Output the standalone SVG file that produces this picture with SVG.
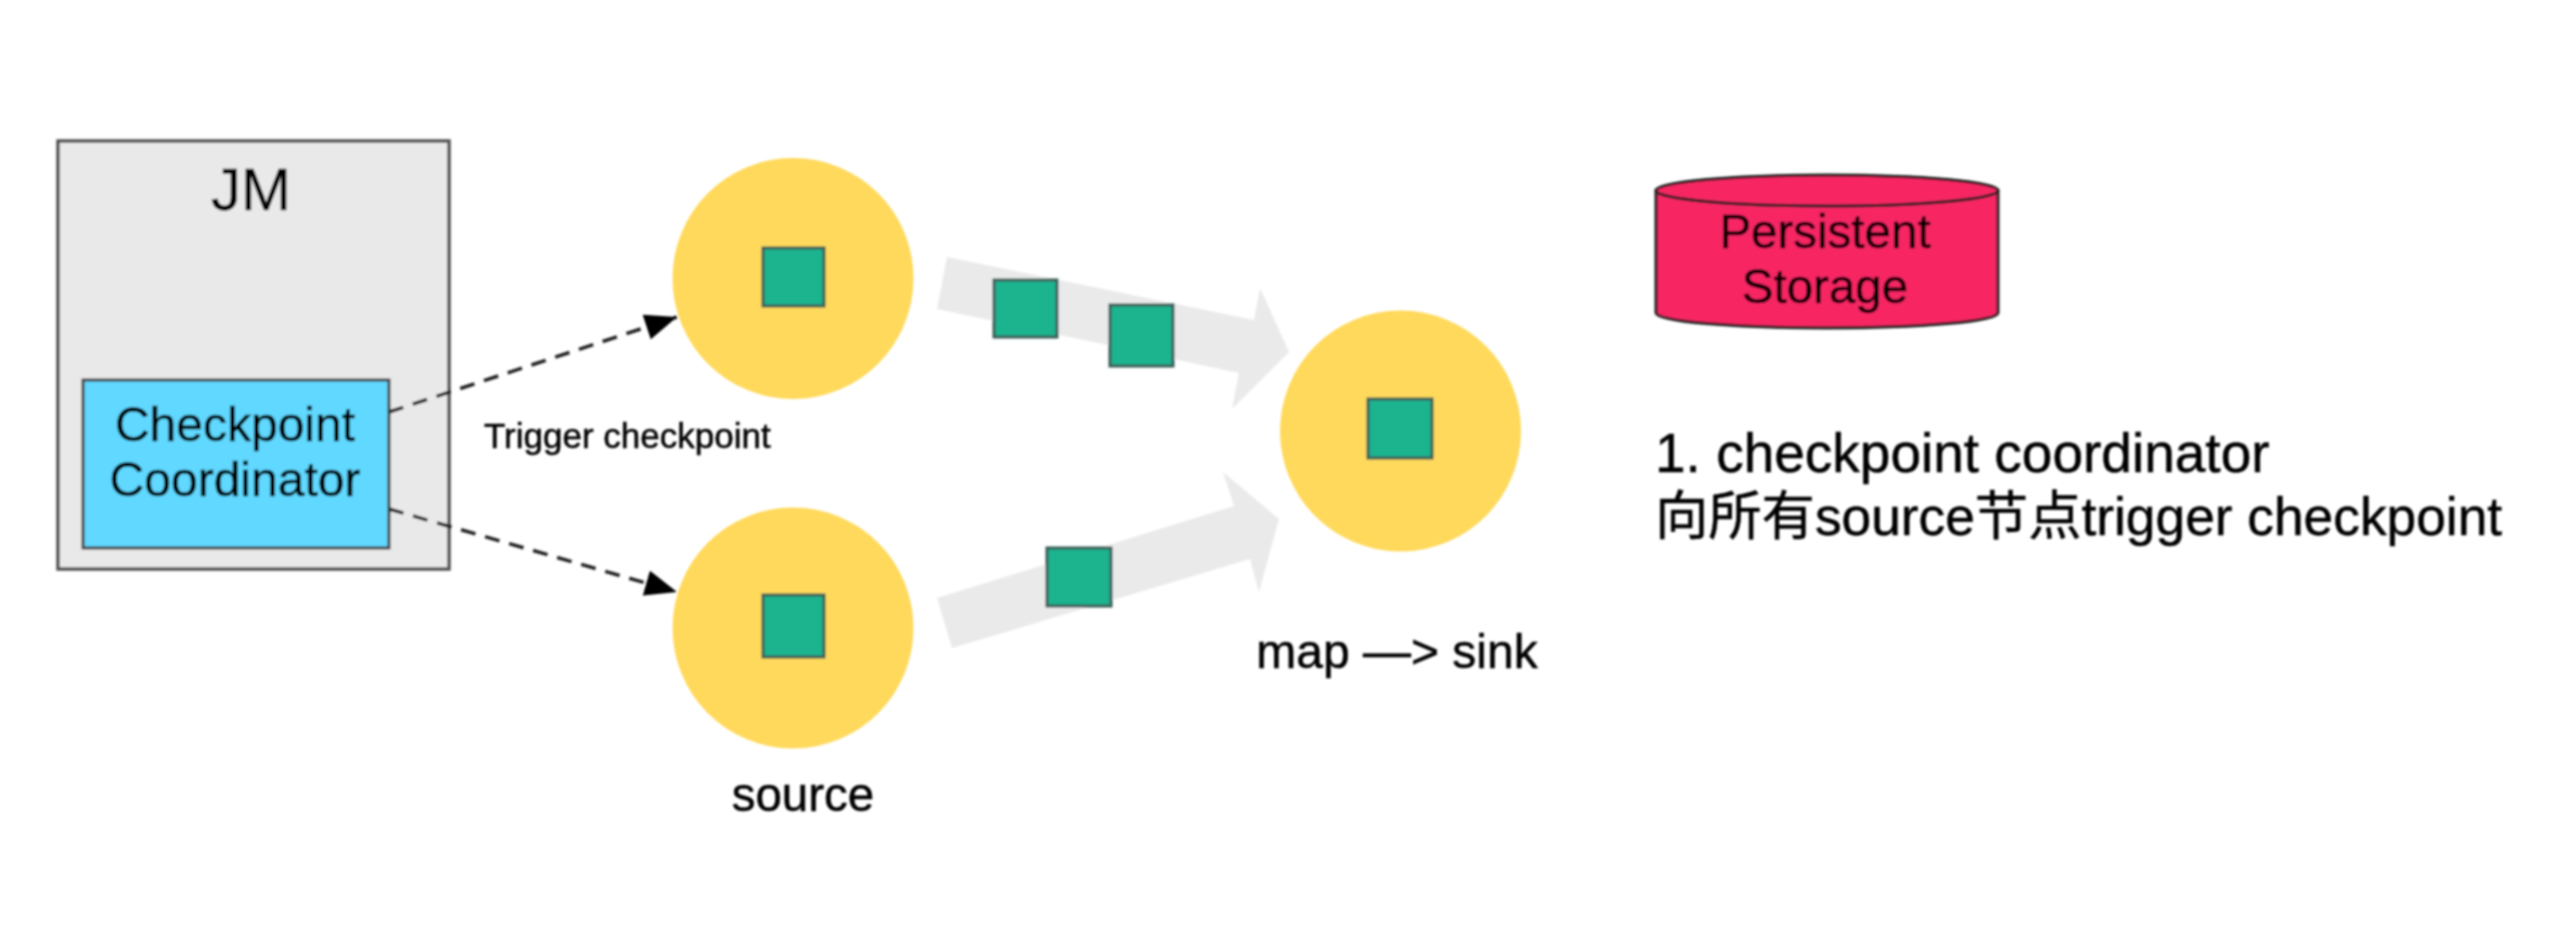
<svg xmlns="http://www.w3.org/2000/svg" width="2560" height="949" viewBox="0 0 2560 949">
  <style>
    text { font-family: "Liberation Sans", "Noto Sans CJK SC", sans-serif; fill: #000; stroke: #000; stroke-width: 0.5; }
    .mid { text-anchor: middle; }
    .circle { fill: #FFD95C; }
    .packet { fill: #1BB48F; stroke: #3a5f58; stroke-width: 3; }
    .flow { fill: #EAEAEA; }
    .dash { fill: none; stroke: #222; stroke-width: 3.5; stroke-dasharray: 15 10; }
  </style>
  <defs>
    <marker id="tip" markerUnits="userSpaceOnUse" markerWidth="34" markerHeight="26" refX="32" refY="13" orient="auto">
      <path d="M0 0L32 13L0 26Z" fill="#000"/>
    </marker>
    <filter id="soft" x="-2%" y="-2%" width="104%" height="104%"><feGaussianBlur stdDeviation="0.8"/></filter>
  </defs>
  <rect width="2560" height="949" fill="#fff"/>
  <g filter="url(#soft)">
    <g id="jm">
      <rect x="58" y="141" width="391" height="428" fill="#E9E9E9" stroke="#555" stroke-width="3.5"/>
      <text class="mid" x="251" y="210" font-size="60">JM</text>
    </g>
    <g id="coordinator">
      <rect x="83" y="380" width="306" height="168" fill="#61D8FF" stroke="#444" stroke-width="3"/>
      <text class="mid" x="235" y="441" font-size="48">Checkpoint</text>
      <text class="mid" x="235" y="496" font-size="48">Coordinator</text>
    </g>
    <g id="flows">
      <polygon class="flow" points="947,257 1254,320 1260,288 1289,352 1232,409 1239,373 937,309"/>
      <polygon class="flow" points="937,598 1234,506 1223,472 1279,519 1259,592 1250,559 952,648"/>
    </g>
    <g id="connectors">
      <line class="dash" x1="389" y1="412" x2="677" y2="317" marker-end="url(#tip)"/>
      <line class="dash" x1="389" y1="509" x2="677" y2="592" marker-end="url(#tip)"/>
    </g>
    <text id="trigger-label" x="484" y="448" font-size="35">Trigger checkpoint</text>
    <g id="source-top">
      <circle class="circle" cx="793" cy="278.5" r="120.5"/>
      <rect class="packet" x="763" y="248" width="61" height="58"/>
    </g>
    <g id="source-bottom">
      <circle class="circle" cx="793" cy="628" r="120.5"/>
      <rect class="packet" x="763" y="595" width="61" height="62"/>
      <text class="mid" x="803" y="811" font-size="47.5">source</text>
    </g>
    <g id="sink">
      <circle class="circle" cx="1400.5" cy="431" r="120.5"/>
      <rect class="packet" x="1368" y="399" width="64" height="59"/>
      <text class="mid" x="1397" y="668" font-size="48">map —&gt; sink</text>
    </g>
    <g id="packets">
      <rect class="packet" x="994" y="280" width="63" height="57"/>
      <rect class="packet" x="1110" y="305" width="63" height="61"/>
      <rect class="packet" x="1047" y="548" width="64" height="58"/>
    </g>
    <g id="storage">
      <path d="M1656 190.5V313A171 15 0 0 0 1998 313V190.5Z" fill="#F72564" stroke="#222" stroke-width="3"/>
      <ellipse cx="1827" cy="190.5" rx="171" ry="15.5" fill="#F72564" stroke="#222" stroke-width="3"/>
      <text class="mid" x="1825" y="248" font-size="47.5">Persistent</text>
      <text class="mid" x="1825" y="303" font-size="47.5">Storage</text>
    </g>
    <g id="note">
      <text x="1655" y="472" font-size="55">1. checkpoint coordinator</text>
      <text x="1655" y="535" font-size="53.3">向所有source节点trigger checkpoint</text>
    </g>
  </g>
</svg>
